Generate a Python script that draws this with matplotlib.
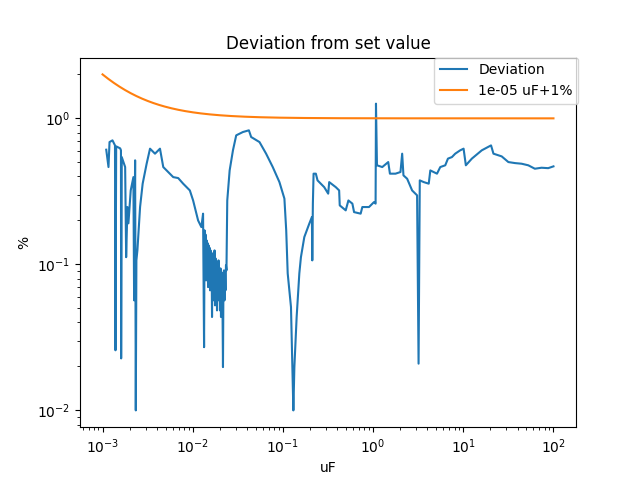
import matplotlib
matplotlib.use("Agg")
import matplotlib.pyplot as plt
import numpy as np

# Measured deviation (uF, %)
dev_x = [1.099e-3, 1.164e-3, 1.195e-3, 1.289e-3, 1.374e-3, 1.391e-3, 1.416e-3, 1.568e-3,
         1.600e-3, 1.608e-3, 1.633e-3, 1.781e-3, 1.827e-3, 1.888e-3, 1.936e-3, 2.053e-3,
         2.199e-3, 2.239e-3, 2.297e-3, 2.337e-3, 2.373e-3, 2.435e-3, 2.607e-3, 2.785e-3,
         3.083e-3, 3.361e-3, 3.817e-3, 4.333e-3, 4.713e-3, 5.352e-3, 6.076e-3, 6.901e-3,
         7.834e-3, 9.290e-3, 1.010e-2, 1.147e-2, 1.247e-2, 1.302e-2, 1.336e-2,
         1.353e-2, 1.371e-2, 1.388e-2, 1.406e-2, 1.424e-2, 1.442e-2, 1.461e-2, 1.479e-2,
         1.498e-2, 1.517e-2, 1.536e-2, 1.556e-2, 1.576e-2, 1.596e-2, 1.616e-2, 1.637e-2,
         1.658e-2, 1.680e-2, 1.701e-2, 1.723e-2, 1.745e-2, 1.767e-2, 1.790e-2, 1.813e-2,
         1.836e-2, 1.859e-2, 1.883e-2, 1.907e-2, 1.932e-2, 1.956e-2, 1.981e-2, 2.006e-2,
         2.032e-2, 2.058e-2, 2.084e-2, 2.111e-2, 2.138e-2, 2.165e-2, 2.193e-2, 2.221e-2,
         2.249e-2, 2.278e-2, 2.307e-2, 2.337e-2, 2.366e-2,
         2.415e-2, 2.567e-2, 2.793e-2, 3.035e-2, 3.599e-2,
         4.194e-2, 4.446e-2, 5.502e-2, 6.510e-2, 7.716e-2, 9.149e-2, 0.1039, 0.1088,
         0.1130, 0.1229, 0.1283, 0.1306, 0.1340, 0.1420, 0.1521, 0.1584,
         0.1727, 0.1961, 0.2096, 0.2117, 0.2149, 0.2188, 0.2319, 0.2421,
         0.2871, 0.3178, 0.3261, 0.3857, 0.4203, 0.4267, 0.4971, 0.5324,
         0.5893, 0.6154, 0.7278, 0.7600, 0.9010, 1.023, 1.066, 1.0765,
         1.104, 1.264, 1.472, 1.537, 1.772, 2.012, 2.101, 2.171,
         2.385, 2.708, 3.075, 3.194, 3.294, 3.646, 4.140, 4.312,
         5.112, 5.559, 6.313, 6.761, 7.484, 8.141, 9.243, 10.08,
         10.68, 12.45, 16.04, 20.32, 21.61, 26.67, 31.62, 37.40,
         44.36, 52.58, 62.17, 73.74, 87.43, 100.0]
dev_y = [0.610, 0.464, 0.688, 0.707, 0.653, 0.0258, 0.643, 0.623,
         0.604, 0.0227, 0.543, 0.464, 0.112, 0.247, 0.191, 0.321,
         0.396, 0.0567, 0.516, 0.0100, 0.1065, 0.1247, 0.247, 0.357,
         0.489, 0.620, 0.573, 0.620, 0.464, 0.429, 0.396, 0.390,
         0.357, 0.321, 0.274, 0.200, 0.180, 0.2225, 0.0271,
         0.171, 0.110, 0.160, 0.0777, 0.146, 0.0881, 0.140, 0.0699,
         0.135, 0.0841, 0.130, 0.0664, 0.1247, 0.0718, 0.120, 0.0436,
         0.1152, 0.0567, 0.1065, 0.0664, 0.1247, 0.0524, 0.1099, 0.0777,
         0.1032, 0.0484, 0.0984, 0.0567, 0.1065, 0.0620, 0.0910, 0.0484,
         0.0939, 0.0436, 0.0881, 0.0777, 0.0524, 0.0198, 0.0841, 0.0910,
         0.0567, 0.0881, 0.0664, 0.0984, 0.0910,
         0.274, 0.440, 0.604, 0.765, 0.806,
         0.828, 0.745, 0.688, 0.573, 0.464, 0.366, 0.282, 0.171,
         0.0868, 0.0510, 0.01605, 0.0100, 0.0198, 0.0436, 0.0868, 0.112,
         0.1538, 0.190, 0.211, 0.1065, 0.2606, 0.418, 0.418, 0.376,
         0.338, 0.305, 0.366, 0.338, 0.321, 0.2535, 0.2344, 0.274,
         0.2606, 0.228, 0.2225, 0.247, 0.247, 0.267, 0.2606, 1.261,
         0.477, 0.464, 0.502, 0.418, 0.418, 0.429, 0.573, 0.407,
         0.386, 0.321, 0.297, 0.0209, 0.376, 0.366, 0.357, 0.440,
         0.418, 0.464, 0.477, 0.530, 0.543, 0.573, 0.604, 0.620,
         0.477, 0.530, 0.604, 0.653, 0.573, 0.549, 0.502, 0.494,
         0.489, 0.477, 0.452, 0.459, 0.456, 0.469]

# Tolerance curve: absolute part (uF) + relative part (%)
tol_abs_uF = 1e-5
tol_rel_pct = 1.0
x_min_uF = 1e-3
x_max_uF = 1e2

tol_x = np.logspace(np.log10(x_min_uF), np.log10(x_max_uF), 400)
tol_y = tol_abs_uF / tol_x * 100 + tol_rel_pct

fig, ax = plt.subplots(figsize=(6.4, 4.8), dpi=100)
ax.plot(dev_x, dev_y, label="Deviation")
ax.plot(tol_x, tol_y, label=f"{tol_abs_uF:g} uF+{tol_rel_pct:g}%")
ax.set_xscale("log")
ax.set_yscale("log")
ax.set_title("Deviation from set value")
ax.set_xlabel("uF")
ax.set_ylabel("%")
ax.legend(loc="upper right", bbox_to_anchor=(1.005, 1.0), borderaxespad=0)
fig.savefig("out.png")
